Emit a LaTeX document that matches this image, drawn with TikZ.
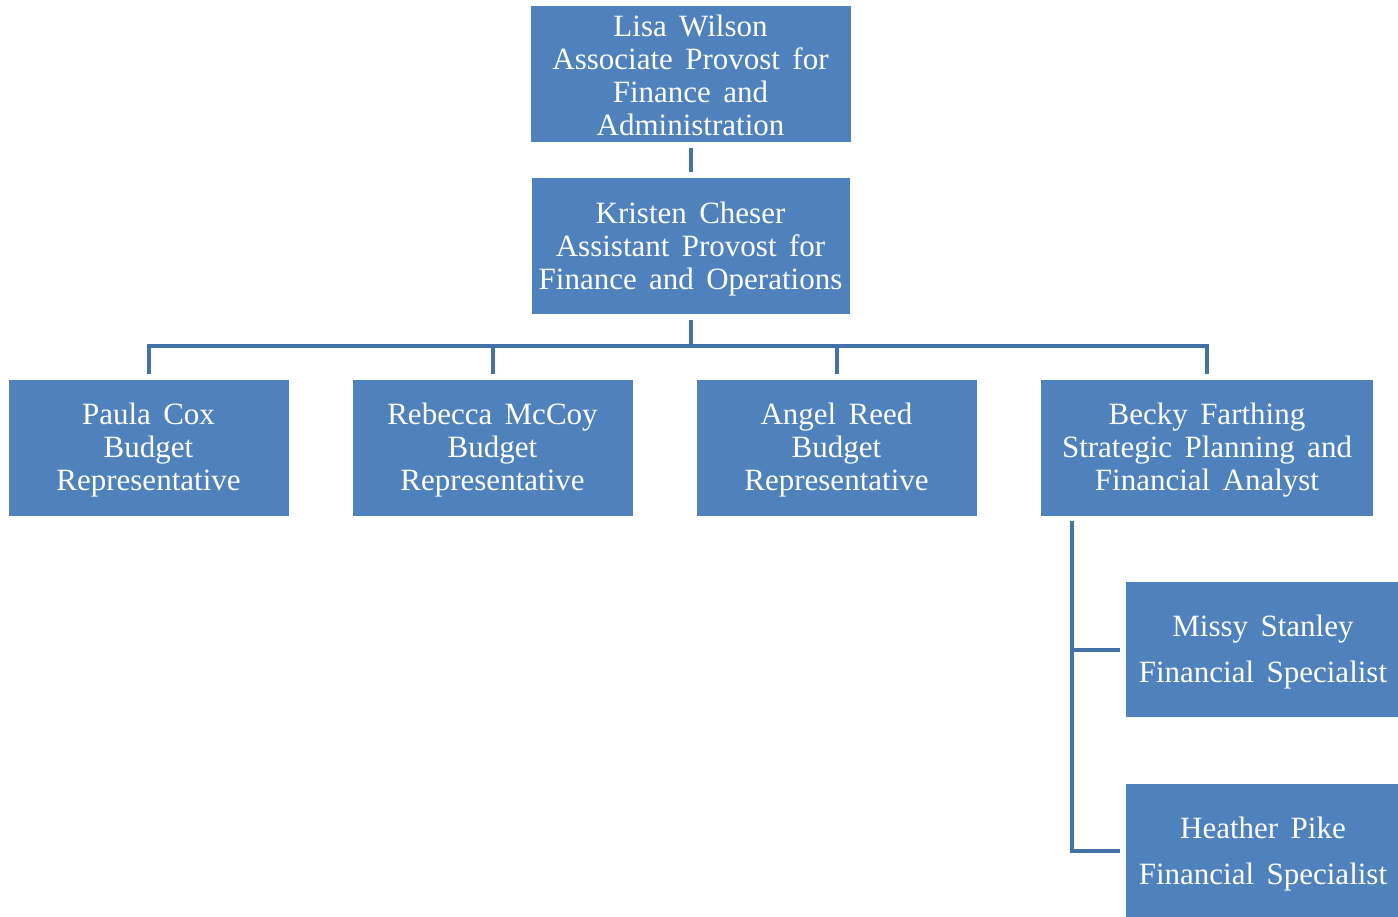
\documentclass[tikz,border=0pt]{standalone}
\usepackage{fontspec}
\setmainfont{Liberation Serif}
\definecolor{boxblue}{HTML}{4F81BD}
\definecolor{lineblue}{HTML}{4372AA}
\newcommand\toppad[1]{\rule{0pt}{#1}}
\newcommand\boxfont{\fontsize{15.5}{16.5}\selectfont\spaceskip 0.4em plus 0.1em\relax}
\newcommand\widefont{\fontsize{15.5}{23}\selectfont\spaceskip 0.4em plus 0.1em\relax}
\tikzset{
  box/.style={fill=boxblue, text=white, align=center, inner sep=0pt,
    minimum height=68pt, font=\boxfont},
  wide/.style={font=\widefont},
  conn/.style={draw=lineblue, line width=2pt},
}
\begin{document}
\begin{tikzpicture}[x=0.5pt,y=-0.5pt]
\useasboundingbox (0,0) rectangle (1398,916);
\clip (0,0) rectangle (1398,916);
\node[box, minimum width=160pt] (lisa) at (690.5,74) {\toppad{12pt}Lisa Wilson\\Associate Provost for\\Finance and\\Administration};
\node[box, minimum width=159pt] (kristen) at (690.5,246) {\toppad{13.6pt}Kristen Cheser\\Assistant Provost for\\Finance and Operations};
\node[box, minimum width=140pt] (paula) at (148.5,448) {\toppad{13pt}Paula Cox\\Budget\\Representative};
\node[box, minimum width=140pt] (rebecca) at (492.5,448) {\toppad{13pt}Rebecca McCoy\\Budget\\Representative};
\node[box, minimum width=140pt] (angel) at (836.5,448) {\toppad{13pt}Angel Reed\\Budget\\Representative};
\node[box, minimum width=166pt] (becky) at (1207,448) {\toppad{13pt}Becky Farthing\\Strategic Planning and\\Financial Analyst};
\node[box, wide, minimum width=137pt, minimum height=67.5pt] (missy) at (1263,649.5) {\toppad{13.6pt}Missy Stanley\\Financial Specialist};
\node[box, wide, minimum width=137pt, minimum height=67pt] (heather) at (1263,851) {\toppad{13.6pt}Heather Pike\\Financial Specialist};
\coordinate (bus) at (690.5,346);
\coordinate (btop) at (1072,521);
\draw[conn] ([yshift=-3pt]lisa.south) -- ([yshift=3pt]kristen.north);
\draw[conn] ([yshift=-3pt]kristen.south) -- (bus);
\draw[conn] ([yshift=3pt]paula.north) |- (bus) -| ([yshift=3pt]becky.north);
\draw[conn] ([yshift=3pt]rebecca.north) -- (rebecca.north |- bus);
\draw[conn] ([yshift=3pt]angel.north) -- (angel.north |- bus);
\draw[conn] (btop) |- ([xshift=-3pt]heather.west);
\draw[conn] (btop |- missy.west) -- ([xshift=-3pt]missy.west);
\end{tikzpicture}
\end{document}
